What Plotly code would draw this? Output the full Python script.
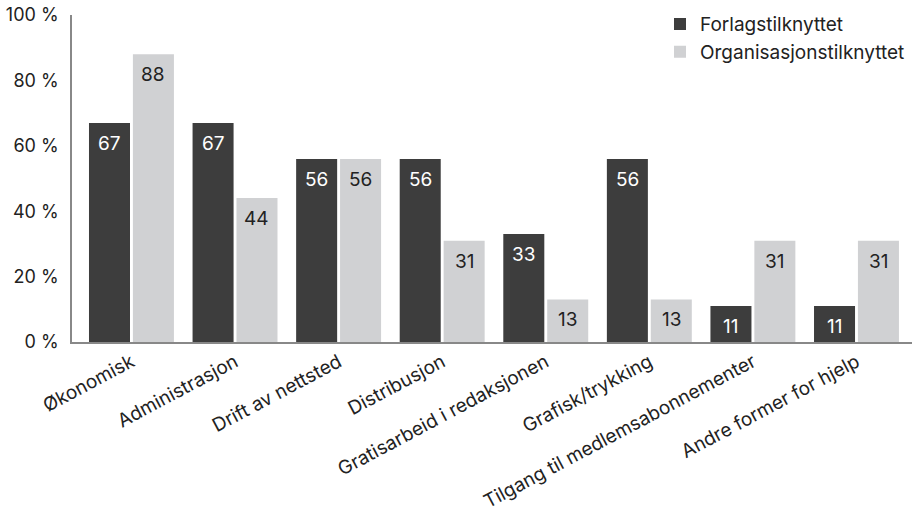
import plotly.graph_objects as go

categories = ["Økonomisk", "Administrasjon", "Drift av nettsted", "Distribusjon",
              "Gratisarbeid i redaksjonen", "Grafisk/trykking",
              "Tilgang til medlemsabonnementer", "Andre former for hjelp"]
forlag = [67, 67, 56, 56, 33, 56, 11, 11]
organisasjon = [88, 44, 56, 31, 13, 13, 31, 31]
series_names = ["Forlagstilknyttet", "Organisasjonstilknyttet"]
y_ticks = [0, 20, 40, 60, 80, 100]
y_ticktext = [f"{v} %" for v in y_ticks]

DARK = "#3d3d3d"
LIGHT = "#d0d1d3"
FONT = "Inter"
x = list(range(len(categories)))
W = 0.396
OFF_D = -0.41
OFF_L = 0.014

fig = go.Figure()
fig.add_trace(go.Bar(x=x, y=forlag, name=series_names[0], marker_color=DARK,
                     width=W, offset=OFF_D, marker_line_width=0))
fig.add_trace(go.Bar(x=x, y=organisasjon, name=series_names[1], marker_color=LIGHT,
                     width=W, offset=OFF_L, marker_line_width=0))

annotations = []
for i in x:
    annotations.append(dict(x=i + OFF_D + W / 2, y=forlag[i], xref="x", yref="y",
                            text=str(forlag[i]), showarrow=False, yanchor="top", yshift=-7,
                            font=dict(family=FONT, size=19, color="white")))
    annotations.append(dict(x=i + OFF_L + W / 2, y=organisasjon[i], xref="x", yref="y",
                            text=str(organisasjon[i]), showarrow=False, yanchor="top", yshift=-7,
                            font=dict(family=FONT, size=19, color="#222222")))

fig.update_layout(
    width=913, height=520,
    margin=dict(l=72, r=1, t=15, b=178, autoexpand=False),
    paper_bgcolor="white", plot_bgcolor="white",
    barmode="overlay",
    font=dict(family=FONT, size=18, color="#222222"),
    annotations=annotations,
    showlegend=True,
    legend=dict(x=0.7, y=1.03, xanchor="left", yanchor="top",
                font=dict(family=FONT, size=19, color="#222222"),
                bgcolor="rgba(0,0,0,0)", tracegroupgap=0),
    xaxis=dict(range=[-0.574, 7.536], tickmode="array", tickvals=x, ticktext=categories,
               tickangle=-28, showgrid=False, zeroline=False, showline=True,
               linecolor="#888888", linewidth=1.5, ticks="", automargin=False,
               tickfont=dict(family=FONT, size=19, color="#222222")),
    yaxis=dict(range=[0, 100], tickmode="array", tickvals=y_ticks, ticktext=y_ticktext,
               showgrid=False, zeroline=False, showline=True, linecolor="#888888",
               linewidth=1.5, ticks="", ticklabelstandoff=8, automargin=False,
               tickfont=dict(family=FONT, size=18, color="#222222")),
)

fig.write_html("out.html")
